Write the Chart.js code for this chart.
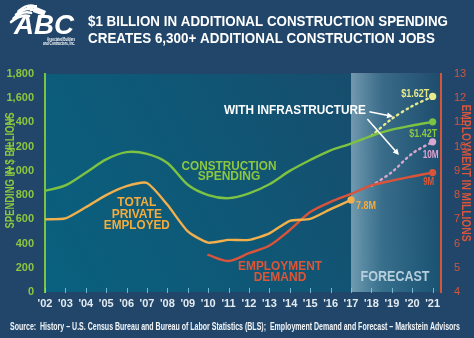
<!DOCTYPE html>
<html><head><meta charset="utf-8">
<script src="https://cdn.jsdelivr.net/npm/chart.js@4.4.1/dist/chart.umd.min.js"></script>
<style>html,body{margin:0;padding:0;background:#21466a;overflow:hidden}canvas{display:block}</style>
</head><body>
<canvas id="c" width="474" height="338"></canvas>
<script>
// ---------- DATA ----------
const years = [2002,2003,2004,2005,2006,2007,2008,2009,2010,2011,2012,2013,2014,2015,2016,2017,2018,2019,2020,2021];
const xTickLabels = ["'02","'03","'04","'05","'06","'07","'08","'09","'10","'11","'12","'13","'14","'15","'16","'17","'18","'19","'20","'21"];
const constructionSpending = [835,880,985,1095,1155,1140,1065,885,800,775,815,890,1000,1090,1170,1225,1290,1340,1375,1405];
const infraYears = [2018,2019,2020,2021];
const spendingWithInfra = [1290,1430,1535,1615];
const employedYears = [2002,2003,2004,2005,2006,2007,2008,2009,2010,2011,2012,2013,2014,2015,2016,2017];
const totalPrivateEmployed = [7.0,7.04,7.5,8.0,8.37,8.5,7.6,6.5,6.04,6.15,6.15,6.42,6.94,7.02,7.42,7.8];
const demandYears = [2010,2011,2012,2013,2014,2015,2016,2017,2018,2019,2020,2021];
const employmentDemand = [5.53,5.28,5.6,5.92,6.56,7.3,7.72,8.05,8.4,8.6,8.77,8.93];
const demandWithInfra = [8.38,8.95,9.72,10.2];
const leftTicks = [0,200,400,600,800,1000,1200,1400,1600,1800];
const rightTicks = [4,5,6,7,8,9,10,11,12,13];
const forecastStart = 2017;

// ---------- COLOURS ----------
const GREEN = '#7dc242', YELLOW = '#e6e98c', ORANGE = '#f2b04c', RED = '#d9543a', PINK = '#d9a7cd';
const FONT = '"Liberation Sans", Arial, sans-serif';

const mkPts = (xs, ys) => xs.map((x, i) => ({x: x, y: ys[i]}));
const lastDot = n => c => (c.dataIndex === n - 1 ? 3.6 : 0);

function fitText(ctx, text, x, y, font, color, align, width) {
  ctx.save();
  ctx.font = font; ctx.fillStyle = color; ctx.textBaseline = 'middle'; ctx.textAlign = align;
  const w = ctx.measureText(text).width;
  const s = width ? width / w : 1;
  ctx.translate(x, y); ctx.scale(s, 1);
  ctx.fillText(text, 0, 0);
  ctx.restore();
}
function arrow(ctx, x1, y1, x2, y2) {
  ctx.save();
  ctx.strokeStyle = '#fff'; ctx.fillStyle = '#fff'; ctx.lineWidth = 1.6;
  const a = Math.atan2(y2 - y1, x2 - x1);
  const hx = x2 - 5 * Math.cos(a), hy = y2 - 5 * Math.sin(a);
  ctx.beginPath(); ctx.moveTo(x1, y1); ctx.lineTo(hx, hy); ctx.stroke();
  ctx.beginPath();
  ctx.moveTo(x2, y2);
  ctx.lineTo(x2 - 6 * Math.cos(a) + 3 * Math.sin(a), y2 - 6 * Math.sin(a) - 3 * Math.cos(a));
  ctx.lineTo(x2 - 6 * Math.cos(a) - 3 * Math.sin(a), y2 - 6 * Math.sin(a) + 3 * Math.cos(a));
  ctx.closePath(); ctx.fill();
  ctx.restore();
}

const decor = {
  id: 'decor',
  beforeDraw(chart) {
    const {ctx, chartArea: a} = chart;
    ctx.save();
    ctx.fillStyle = '#21466a';
    ctx.fillRect(0, 0, chart.width, chart.height);
    const g = ctx.createLinearGradient(a.left, a.bottom, a.right, a.top);
    g.addColorStop(0, '#09617f');
    g.addColorStop(0.5, '#105675');
    g.addColorStop(1, '#1b4869');
    ctx.fillStyle = g;
    ctx.fillRect(a.left, a.top, a.right - a.left, a.bottom - a.top);
    ctx.restore();
  },
  beforeDatasetsDraw(chart) {
    const {ctx, chartArea: a, scales} = chart;
    const x0 = scales.x.getPixelForValue(forecastStart);
    ctx.save();
    const g = ctx.createLinearGradient(x0, 0, a.right, 0);
    g.addColorStop(0, 'rgba(190,215,228,0.55)');
    g.addColorStop(0.35, 'rgba(160,200,220,0.25)');
    g.addColorStop(1, 'rgba(140,190,215,0.03)');
    ctx.fillStyle = g;
    ctx.fillRect(x0, a.top - 1, a.right - 1 - x0, a.bottom - a.top + 1);
    // FORECAST
    fitText(ctx, 'FORECAST', x0 + 9.5, scales.y1.getPixelForValue(4.62), 'bold 14px ' + FONT, '#b7cfdd', 'left', 69);
    // x tick marks
    ctx.strokeStyle = 'rgba(130,200,225,0.85)'; ctx.lineWidth = 1;
    years.forEach(yv => {
      const px = Math.round(scales.x.getPixelForValue(yv)) + 0.5;
      ctx.beginPath(); ctx.moveTo(px, a.bottom - 4); ctx.lineTo(px, a.bottom + 1); ctx.stroke();
    });
    ctx.restore();
  },
  afterDatasetsDraw(chart) {
    const {ctx, scales} = chart;
    const X = v => scales.x.getPixelForValue(v);
    const L = v => scales.y.getPixelForValue(v);
    const R = v => scales.y1.getPixelForValue(v);
    const B = 'bold 12px ' + FONT;
    // series labels
    fitText(ctx, 'CONSTRUCTION', X(2011.02), L(1035), B, '#8dc63f', 'center', 95);
    fitText(ctx, 'SPENDING', X(2011.02), L(950), B, '#8dc63f', 'center');
    fitText(ctx, 'TOTAL', X(2006.5), R(7.67), B, '#f5ac3c', 'center');
    fitText(ctx, 'PRIVATE', X(2006.5), R(7.19), B, '#f5ac3c', 'center');
    fitText(ctx, 'EMPLOYED', X(2006.5), R(6.74), B, '#f5ac3c', 'center', 66);
    fitText(ctx, 'EMPLOYMENT', X(2013.52), R(5.03), B, '#dc5638', 'center', 84);
    fitText(ctx, 'DEMAND', X(2013.52), R(4.58), B, '#dc5638', 'center');
    fitText(ctx, 'WITH INFRASTRUCTURE', X(2014.25), L(1494), B, '#ffffff', 'center', 142);
    arrow(ctx, X(2017.9), L(1488), X(2019.06), L(1449));
    arrow(ctx, X(2017.8), L(1428), X(2019.35), L(1131));
    // end labels
    const e = 'bold 11px ' + FONT;
    const xe = X(2021);
    fitText(ctx, '$1.62T', xe - 3.5, L(spendingWithInfra[3]) - 2.5, e, '#e6e98c', 'right', 28);
    fitText(ctx, '$1.42T', xe + 4.5, L(constructionSpending[19]) + 12, e, '#8dc63f', 'right', 28);
    fitText(ctx, '10M', xe + 6, R(demandWithInfra[3]) + 13.5, e, '#e2a3cf', 'right', 16);
    fitText(ctx, '9M', xe + 1.5, R(employmentDemand[11]) + 9.5, e, '#dc5638', 'right', 11);
    fitText(ctx, '7.8M', X(2017) + 5, R(totalPrivateEmployed[15]) + 6, e, '#f5ac3c', 'left', 20);
    // axis titles
    ctx.save();
    ctx.translate(10.5, 170.5); ctx.rotate(-Math.PI / 2);
    fitText(ctx, 'SPENDING IN $ BILLIONS', 0, 0, 'bold 12px ' + FONT, '#8dc63f', 'center', 116);
    ctx.restore();
    ctx.save();
    ctx.translate(465.5, 173); ctx.rotate(Math.PI / 2);
    fitText(ctx, 'EMPLOYMENT IN MILLIONS', 0, 0, 'bold 13px ' + FONT, '#d9553b', 'center', 137);
    ctx.restore();
    // title
    fitText(ctx, '$1 BILLION IN ADDITIONAL CONSTRUCTION SPENDING', 88, 22, 'bold 14px ' + FONT, '#ffffff', 'left', 360);
    fitText(ctx, 'CREATES 6,300+ ADDITIONAL CONSTRUCTION JOBS', 88, 39, 'bold 14px ' + FONT, '#ffffff', 'left', 347);
    // source
    fitText(ctx, 'Source:  History \u2013 U.S. Census Bureau and Bureau of Labor Statistics (BLS);  Employment Demand and Forecast \u2013 Markstein Advisors',
      10, 327, 'bold 10px "Liberation Sans Narrow", ' + FONT, '#f2f5f8', 'left', 450);
    // logo
    ctx.save();
    ctx.fillStyle = '#fff'; ctx.strokeStyle = '#fff';
    ctx.lineCap = 'round';
    for (let i = 0; i < 4; i++) {
      ctx.lineWidth = 2.6;
      ctx.beginPath();
      ctx.moveTo(11 + i * 2.5, 22 - i * 3.6);
      ctx.quadraticCurveTo(20 + i * 2.5, 14 - i * 3.6, 29 + i * 2, 16 - i * 3.2);
      ctx.stroke();
    }
    ctx.fillRect(27, 5, 10, 3); ctx.fillRect(30, 9, 8, 2);
    ctx.beginPath(); ctx.moveTo(34, 6); ctx.lineTo(46, 11); ctx.lineTo(44, 16); ctx.lineTo(33, 12); ctx.closePath(); ctx.fill();
    ctx.restore();
    fitText(ctx, 'ABC', 14, 26, 'italic bold 28px ' + FONT, '#ffffff', 'left', 60);
    fitText(ctx, 'Associated Builders', 75, 39.5, 'bold 5px ' + FONT, '#ffffff', 'right', 28);
    fitText(ctx, 'and Contractors, Inc.', 75, 43.5, 'bold 5px ' + FONT, '#ffffff', 'right', 32);
  }
};

const lineBase = {borderWidth: 2.4, tension: 0.3, pointBorderWidth: 0, fill: false, borderCapStyle: 'round', borderJoinStyle: 'round'};

new Chart(document.getElementById('c'), {
  type: 'line',
  data: {
    datasets: [
      Object.assign({}, lineBase, {label: 'Construction Spending', data: mkPts(years, constructionSpending), yAxisID: 'y',
        borderColor: GREEN, pointBackgroundColor: GREEN, pointRadius: lastDot(years.length)}),
      Object.assign({}, lineBase, {label: 'Spending with Infrastructure', data: mkPts(infraYears, spendingWithInfra), yAxisID: 'y',
        borderColor: YELLOW, pointBackgroundColor: YELLOW, borderDash: [1.5, 4], pointRadius: lastDot(infraYears.length)}),
      Object.assign({}, lineBase, {label: 'Total Private Employed', data: mkPts(employedYears, totalPrivateEmployed), yAxisID: 'y1',
        borderColor: ORANGE, pointBackgroundColor: ORANGE, pointRadius: lastDot(employedYears.length), tension: 0.2}),
      Object.assign({}, lineBase, {label: 'Employment Demand', data: mkPts(demandYears, employmentDemand), yAxisID: 'y1',
        borderColor: RED, pointBackgroundColor: RED, pointRadius: lastDot(demandYears.length)}),
      Object.assign({}, lineBase, {label: 'Demand with Infrastructure', data: mkPts(infraYears, demandWithInfra), yAxisID: 'y1',
        borderColor: PINK, pointBackgroundColor: PINK, borderDash: [1.5, 4], pointRadius: lastDot(infraYears.length)})
    ]
  },
  options: {
    responsive: false, animation: false, devicePixelRatio: 1,
    layout: {padding: {top: 74, left: 0, right: 0, bottom: 0}},
    plugins: {legend: {display: false}, tooltip: {enabled: false}, title: {display: false}},
    scales: {
      x: {
        type: 'linear', min: 2002, max: 2021.41,
        afterBuildTicks: s => { s.ticks = years.map(v => ({value: v})); },
        afterFit: s => { s.height = 46; },
        grid: {display: false}, border: {display: false},
        ticks: {autoSkip: false, maxRotation: 0, padding: -3, color: '#e3ebf0',
          font: {family: FONT, size: 11, weight: 'bold'},
          callback: v => xTickLabels[years.indexOf(v)]}
      },
      y: {
        position: 'left', min: 0, max: 1800,
        afterBuildTicks: s => { s.ticks = leftTicks.map(v => ({value: v})); },
        afterFit: s => { s.width = 45; },
        grid: {display: false}, border: {display: true, color: GREEN, width: 2},
        ticks: {padding: 3, color: '#8dc63f', font: {family: FONT, size: 11, weight: 'bold'},
          callback: v => v.toLocaleString('en-US')}
      },
      y1: {
        position: 'right', min: 4, max: 13,
        afterBuildTicks: s => { s.ticks = rightTicks.map(v => ({value: v})); },
        afterFit: s => { s.width = 33; },
        grid: {display: false}, border: {display: true, color: '#d4553a', width: 2},
        ticks: {padding: 5, color: '#d4553a', font: {family: FONT, size: 11}}
      }
    }
  },
  plugins: [decor]
});
</script>
</body></html>
